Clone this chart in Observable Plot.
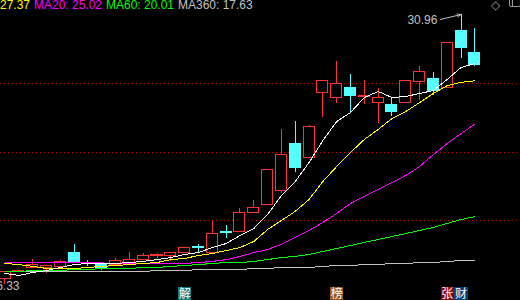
<!DOCTYPE html>
<html><head><meta charset="utf-8">
<script src="https://cdn.jsdelivr.net/npm/d3@7"></script>
<script src="https://cdn.jsdelivr.net/npm/@observablehq/plot@0.6"></script>
<style>
html,body{margin:0;padding:0;background:#000;}
#wrap{position:relative;width:520px;height:300px;overflow:hidden;background:#000;}
#hdr{position:absolute;left:0;top:0;width:520px;height:14px;font:12px "Liberation Sans",Arial,sans-serif;white-space:nowrap;}
#hdr span{position:absolute;top:-2px;}
#icon2{position:absolute;left:509px;top:-3px;width:12px;height:10px;border:1px solid #9a9a9a;border-radius:2px;box-sizing:border-box;}
#icon2b{position:absolute;left:512px;top:-3px;width:1px;height:10px;background:#9a9a9a;}
</style></head><body><div id="wrap"><div id="hdr"></div></div>
<script>
// ---- data (weekly candles, left to right) ----
const open  = [16.65,17.01,17.20,17.20,17.28,18.06,17.48,17.40,17.38,17.49,17.68,17.88,17.90,18.01,18.35,18.01,19.17,19.15,20.23,20.66,21.37,23.92,23.21,26.68,26.46,27.00,26.50,26.19,26.03,26.19,27.28,27.44,27.00,30.04,28.90];
const high  = [17.05,17.09,17.68,17.33,17.63,18.50,17.62,17.47,17.75,18.05,18.01,18.01,18.07,18.35,18.50,19.74,19.53,20.45,20.88,22.53,24.73,25.16,24.95,27.40,28.41,27.71,27.38,26.95,26.41,27.35,28.14,27.82,29.46,30.96,30.20];
const low   = [16.33,16.98,17.18,16.93,17.27,17.54,17.30,17.11,17.36,17.48,17.66,17.74,17.58,18.00,18.06,17.99,18.82,19.13,20.21,20.60,21.26,22.40,23.19,25.38,26.14,25.65,26.08,25.05,25.43,26.17,26.30,26.57,26.98,28.58,28.14];
const close = [17.03,17.05,17.36,17.31,17.55,17.55,17.46,17.23,17.61,17.67,17.85,17.92,18.06,18.33,18.31,19.09,19.13,20.23,20.50,22.51,23.37,22.62,24.89,27.38,27.17,26.52,26.54,26.41,25.65,27.33,27.87,26.79,29.44,29.12,28.20];

const ma5   = [16.93,16.82,16.98,17.09,17.25,17.41,17.47,17.47,17.47,17.52,17.58,17.68,17.79,17.96,18.06,18.33,18.55,18.98,19.36,20.12,21.15,21.91,22.94,24.13,25.16,25.65,26.46,26.79,26.46,26.52,26.68,26.84,27.44,28.09,28.30];
const ma10  = [17.47,17.41,17.31,17.20,17.20,17.20,17.25,17.31,17.36,17.41,17.47,17.52,17.68,17.74,17.90,18.01,18.17,18.33,18.66,19.31,19.80,20.29,20.94,21.91,22.72,23.48,24.19,24.73,25.32,25.70,26.19,26.68,27.11,27.28,27.37];
const ma20  = [17.52,17.52,17.52,17.52,17.52,17.52,17.52,17.50,17.47,17.47,17.47,17.47,17.47,17.47,17.52,17.58,17.68,17.85,18.06,18.23,18.50,18.88,19.26,19.69,20.18,20.72,21.10,21.48,21.86,22.24,22.72,23.37,23.97,24.51,25.02];
const ma60  = [17.03,17.03,17.09,17.09,17.09,17.14,17.14,17.20,17.20,17.20,17.25,17.25,17.31,17.36,17.41,17.47,17.52,17.52,17.58,17.68,17.79,17.85,17.96,18.12,18.28,18.44,18.61,18.77,18.93,19.09,19.26,19.42,19.64,19.85,20.01];
const ma360 = [17.03,17.03,17.03,17.03,17.03,17.03,17.03,17.03,17.03,17.03,17.03,17.09,17.09,17.09,17.14,17.14,17.14,17.14,17.20,17.20,17.25,17.25,17.25,17.31,17.36,17.36,17.41,17.41,17.47,17.47,17.52,17.52,17.58,17.63,17.63];

const gridLevels = [19.80, 23.48, 27.22];

const headerLabels = ["27.37", "MA20: 25.02", "MA60: 20.01", "MA360: 17.63"];
const eventIdx  = [13, 24, 32, 33];
const eventText = ["解", "榜", "张", "财"];

// ---- styling ----
const RED = "#ff3232", CYAN = "#54ffff";
const headerColors = ["#ffff00", "#ff00ff", "#00ff00", "#c0c0c0"];
const headerLeft = [0, 34, 106, 178];
const eventColors = ["#0b7b7b", "#9a5512", "#8a0808", "#0a3c78"];
const maStyles = [
  {values: ma360, color: "#c0c0c0"},
  {values: ma60,  color: "#00ff00"},
  {values: ma20,  color: "#ff00ff"},
  {values: ma10,  color: "#ffff00"},
  {values: ma5,   color: "#ffffff"}
];

const candles = open.map((o, i) => ({i, o, h: high[i], l: low[i], c: close[i], up: close[i] >= o}));
const maxHigh = d3.max(high), hiIdx = high.indexOf(maxHigh);
const minLow = d3.min(low), loIdx = low.indexOf(minLow);
const fmt = d3.format(".2f");

const chart = Plot.plot({
  width: 520, height: 300, margin: 0,
  style: {background: "#000", overflow: "hidden", fontFamily: "Liberation Sans, Arial, sans-serif"},
  color: {type: "identity"},
  x: {domain: [-0.3256, 37.301], axis: null},
  y: {domain: [15.463, 31.7186], axis: null},
  marks: [
    Plot.ruleY(gridLevels, {stroke: "#c00000", strokeDasharray: "1,3", shapeRendering: "crispEdges"}),
    Plot.ruleX(candles, {x: "i", y1: "l", y2: "h", stroke: d => d.up ? RED : CYAN, shapeRendering: "crispEdges"}),
    Plot.rect(candles, {x1: d => d.i - 0.4, x2: d => d.i + 0.4, y1: "o", y2: "c",
      fill: d => d.up ? "#000" : CYAN, stroke: d => d.up ? RED : CYAN, shapeRendering: "crispEdges"}),
    ...maStyles.map(s => Plot.line(s.values, {x: (d, i) => i, y: d => d, stroke: s.color, strokeWidth: 1, shapeRendering: "crispEdges"})),
    Plot.arrow([maxHigh], {x1: () => hiIdx - 1.49, y1: () => maxHigh - 0.27, x2: () => hiIdx, y2: () => maxHigh,
      stroke: "#c0c0c0", strokeWidth: 1, headLength: 6, headAngle: 40}),
    Plot.text([maxHigh], {x: () => hiIdx - 1.49, y: () => maxHigh - 0.27, text: d => fmt(d), textAnchor: "end",
      dx: -3, dy: 0.5, fill: "#c0c0c0", fontSize: 12}),
    Plot.text([minLow], {x: () => loIdx, y: d => d, text: d => fmt(d), textAnchor: "end",
      dx: 14.5, dy: 1.5, fill: "#c0c0c0", fontSize: 12}),
    Plot.dot(eventIdx, {x: d => d, frameAnchor: "bottom", dy: -6.5, symbol: "square", r: 7.6,
      fill: (d, i) => eventColors[i], stroke: null, shapeRendering: "crispEdges"}),
    Plot.text(eventIdx, {x: d => d, frameAnchor: "bottom", dy: -6.5, lineAnchor: "middle",
      text: (d, i) => eventText[i], fill: "#ffffff", fontSize: 12, fontFamily: "Noto Sans CJK SC"})
  ]
});

const wrap = document.getElementById("wrap");
wrap.insertBefore(chart, wrap.firstChild);
const hdr = document.getElementById("hdr");
headerLabels.forEach((t, k) => {
  const s = document.createElement("span");
  s.textContent = t; s.style.left = headerLeft[k] + "px"; s.style.color = headerColors[k];
  hdr.appendChild(s);
});
const ic = document.createElement("span");
ic.textContent = "◇"; ic.style.left = "491px"; ic.style.color = "#9a9a9a"; ic.style.fontFamily = "DejaVu Sans";
hdr.appendChild(ic);
const ic2 = document.createElement("div"); ic2.id = "icon2"; hdr.appendChild(ic2);
const ic2b = document.createElement("div"); ic2b.id = "icon2b"; hdr.appendChild(ic2b);
</script>
</body></html>
